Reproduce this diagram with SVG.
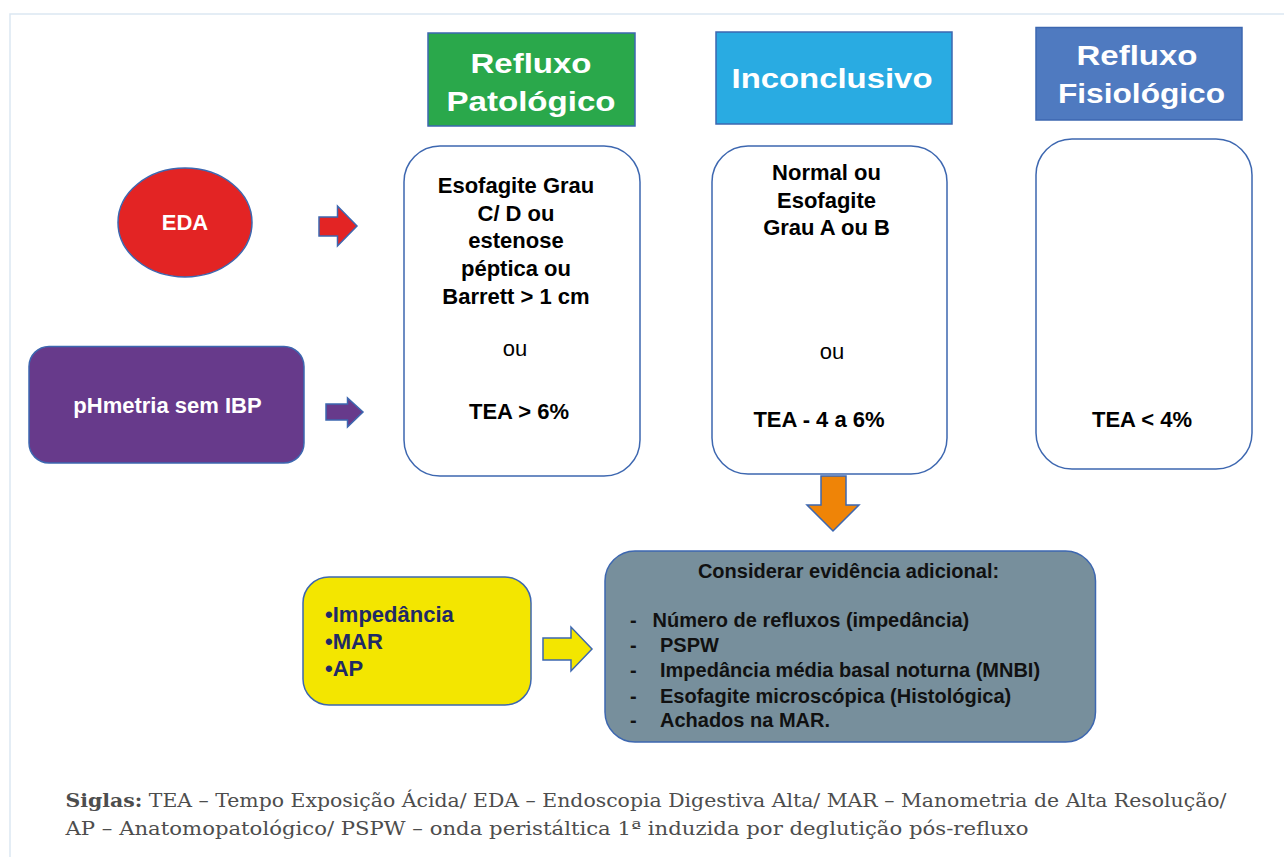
<svg xmlns="http://www.w3.org/2000/svg" width="1284" height="857" viewBox="0 0 1284 857">
<style>
.b{font-family:"Liberation Sans",Arial,sans-serif;font-weight:bold;}
.r{font-family:"Liberation Sans",Arial,sans-serif;}
.hd{font-size:28px;fill:#ffffff;text-anchor:middle;}
.bd{font-size:22px;fill:#000000;text-anchor:middle;}
.gr{font-size:20px;fill:#111111;}
.sg{font-family:"DejaVu Serif","Liberation Serif",serif;font-size:18.5px;fill:#4d4d4d;}
.st{stroke:#3d67b0;stroke-width:1.5;}
</style>
<rect width="1284" height="857" fill="#ffffff"/>
<path d="M10,857 V14 H1284" fill="none" stroke="#dbe7f2" stroke-width="1.5"/>

<g id="hdr-patologico">
<rect x="428" y="33" width="207" height="93" fill="#2aa84b" class="st"/>
<text class="b hd" x="531" y="72.5" textLength="121" lengthAdjust="spacingAndGlyphs">Refluxo</text>
<text class="b hd" x="531" y="110.5" textLength="169" lengthAdjust="spacingAndGlyphs">Patológico</text>
</g>
<g id="hdr-inconclusivo">
<rect x="716" y="32" width="236" height="92" fill="#29abe2" class="st"/>
<text class="b hd" x="832" y="88" textLength="201" lengthAdjust="spacingAndGlyphs">Inconclusivo</text>
</g>
<g id="hdr-fisiologico">
<rect x="1036" y="27.5" width="206" height="92.5" fill="#4f7ac0" class="st"/>
<text class="b hd" x="1137" y="65" textLength="121" lengthAdjust="spacingAndGlyphs">Refluxo</text>
<text class="b hd" x="1141.5" y="103" textLength="167" lengthAdjust="spacingAndGlyphs">Fisiológico</text>
</g>

<g id="eda">
<ellipse cx="185" cy="222.5" rx="67" ry="54.5" fill="#e32424" class="st"/>
<text class="b" x="185" y="230" font-size="22" fill="#ffffff" text-anchor="middle">EDA</text>
</g>
<g id="phmetria">
<rect x="29" y="346.5" width="275" height="116.5" rx="20" fill="#673a8b" class="st"/>
<text class="b" x="167.5" y="413" font-size="22" fill="#ffffff" text-anchor="middle">pHmetria sem IBP</text>
</g>

<g id="box-patologico">
<rect x="404" y="146" width="236" height="330" rx="36" fill="#ffffff" class="st"/>
<text class="b bd" x="516" y="193">Esofagite Grau</text>
<text class="b bd" x="516" y="221">C/ D ou</text>
<text class="b bd" x="516" y="248">estenose</text>
<text class="b bd" x="516" y="276">péptica ou</text>
<text class="b bd" x="516" y="304">Barrett &gt; 1 cm</text>
<text class="r bd" x="515" y="356">ou</text>
<text class="b bd" x="519" y="419">TEA &gt; 6%</text>
</g>

<g id="box-inconclusivo">
<rect x="712" y="146" width="235" height="328" rx="36" fill="#ffffff" class="st"/>
<text class="b bd" x="826.5" y="180">Normal ou</text>
<text class="b bd" x="826.5" y="207.5">Esofagite</text>
<text class="b bd" x="826.5" y="235">Grau A ou B</text>
<text class="r bd" x="832" y="359">ou</text>
<text class="b bd" x="819" y="427">TEA - 4 a 6%</text>
</g>

<g id="box-fisiologico">
<rect x="1036" y="139" width="216" height="330" rx="36" fill="#ffffff" class="st"/>
<text class="b bd" x="1142" y="427">TEA &lt; 4%</text>
</g>

<g id="extra-tests">
<rect x="303" y="577" width="228" height="128" rx="26" fill="#f3e600" class="st"/>
<text class="b" font-size="22" fill="#1f2a66" x="325" y="622">•Impedância</text>
<text class="b" font-size="22" fill="#1f2a66" x="325" y="649">•MAR</text>
<text class="b" font-size="22" fill="#1f2a66" x="325" y="676">•AP</text>
</g>

<g id="evidencia">
<rect x="605" y="551" width="490.5" height="191" rx="30" fill="#778f9c" class="st"/>
<text class="b gr" x="848.5" y="578" text-anchor="middle">Considerar evidência adicional:</text>
<text class="b gr" x="630" y="627"> -</text>
<text class="b gr" x="652.5" y="627">Número de refluxos (impedância)</text>
<text class="b gr" x="630" y="652">-</text>
<text class="b gr" x="660" y="652">PSPW</text>
<text class="b gr" x="630" y="677">-</text>
<text class="b gr" x="660" y="677">Impedância média basal noturna (MNBI)</text>
<text class="b gr" x="630" y="703">-</text>
<text class="b gr" x="660" y="703">Esofagite microscópica (Histológica)</text>
<text class="b gr" x="630" y="727">-</text>
<text class="b gr" x="660" y="727">Achados na MAR.</text>
</g>

<g id="connectors">
<polygon points="319,217 337.5,217 337.5,206 357,226 337.5,246 337.5,236 319,236" fill="#e32424" class="st"/>
<polygon points="326,404 347.5,404 347.5,398 363,412 347.5,427 347.5,420 326,420" fill="#673a8b" class="st"/>
<polygon points="821,476 846,476 846,505 859,505 833,531 807,505 821,505" fill="#ef8407" class="st"/>
<polygon points="543,638 571,638 571,627 592,649 571,671 571,660 543,660" fill="#f3e600" class="st"/>
</g>

<g id="siglas">
<text class="sg" x="65.5" y="807" textLength="1161" lengthAdjust="spacingAndGlyphs"><tspan font-weight="bold">Siglas:</tspan> TEA – Tempo Exposição Ácida/ EDA – Endoscopia Digestiva Alta/ MAR – Manometria de Alta Resolução/</text>
<text class="sg" x="65.5" y="835" textLength="963" lengthAdjust="spacingAndGlyphs">AP – Anatomopatológico/ PSPW – onda peristáltica 1ª induzida por deglutição pós-refluxo</text>
</g>
</svg>
